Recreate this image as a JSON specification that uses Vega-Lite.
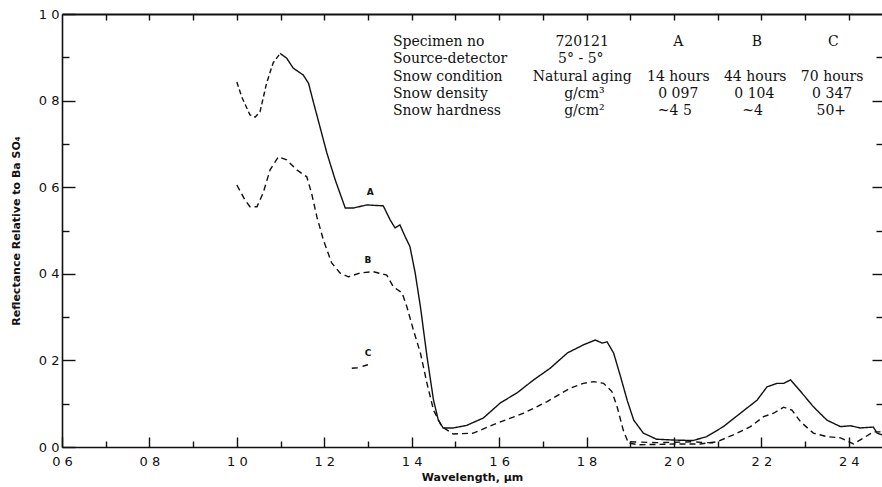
{
  "$schema": "https://vega.github.io/schema/vega-lite/v6.json",
  "width": 820,
  "height": 433,
  "autosize": "none",
  "padding": {"left": 62, "top": 14, "right": 0, "bottom": 40},
  "background": "#ffffff",
  "config": {
    "view": {"stroke": null},
    "axis": {
      "domainColor": "#111111",
      "domainWidth": 1.6,
      "tickColor": "#111111",
      "tickWidth": 1.4,
      "labelFont": "DejaVu Sans",
      "labelColor": "#111111",
      "labelFontSize": 12,
      "titleFont": "DejaVu Sans",
      "titleColor": "#111111",
      "titleFontSize": 11,
      "titleFontWeight": "bold",
      "grid": false
    }
  },
  "datasets": {
    "curves": [
      {"s": "Adash", "p": 1, "x": 1.0, "y": 0.843},
      {"s": "Adash", "p": 1, "x": 1.011, "y": 0.809},
      {"s": "Adash", "p": 1, "x": 1.03, "y": 0.767},
      {"s": "Adash", "p": 1, "x": 1.042, "y": 0.762},
      {"s": "Adash", "p": 1, "x": 1.053, "y": 0.774},
      {"s": "Adash", "p": 1, "x": 1.068, "y": 0.84},
      {"s": "Adash", "p": 1, "x": 1.083, "y": 0.887},
      {"s": "Adash", "p": 1, "x": 1.099, "y": 0.909},
      {"s": "A", "p": 1, "x": 1.099, "y": 0.909},
      {"s": "A", "p": 1, "x": 1.114, "y": 0.898},
      {"s": "A", "p": 1, "x": 1.129, "y": 0.875},
      {"s": "A", "p": 1, "x": 1.152, "y": 0.859},
      {"s": "A", "p": 1, "x": 1.164, "y": 0.84},
      {"s": "A", "p": 1, "x": 1.175, "y": 0.797},
      {"s": "A", "p": 1, "x": 1.19, "y": 0.74},
      {"s": "A", "p": 1, "x": 1.206, "y": 0.679},
      {"s": "A", "p": 1, "x": 1.225, "y": 0.617},
      {"s": "A", "p": 1, "x": 1.248, "y": 0.552},
      {"s": "A", "p": 1, "x": 1.267, "y": 0.552},
      {"s": "A", "p": 1, "x": 1.297, "y": 0.559},
      {"s": "A", "p": 1, "x": 1.335, "y": 0.557},
      {"s": "A", "p": 1, "x": 1.351, "y": 0.524},
      {"s": "A", "p": 1, "x": 1.362, "y": 0.506},
      {"s": "A", "p": 1, "x": 1.373, "y": 0.513},
      {"s": "A", "p": 1, "x": 1.385, "y": 0.486},
      {"s": "A", "p": 1, "x": 1.396, "y": 0.463},
      {"s": "A", "p": 1, "x": 1.408, "y": 0.402},
      {"s": "A", "p": 1, "x": 1.42, "y": 0.324},
      {"s": "A", "p": 1, "x": 1.435, "y": 0.209},
      {"s": "A", "p": 1, "x": 1.45, "y": 0.108},
      {"s": "A", "p": 1, "x": 1.461, "y": 0.062},
      {"s": "A", "p": 1, "x": 1.472, "y": 0.044},
      {"s": "A", "p": 1, "x": 1.495, "y": 0.044},
      {"s": "A", "p": 1, "x": 1.526, "y": 0.05},
      {"s": "A", "p": 1, "x": 1.564, "y": 0.067},
      {"s": "A", "p": 1, "x": 1.603, "y": 0.102},
      {"s": "A", "p": 1, "x": 1.641, "y": 0.125},
      {"s": "A", "p": 1, "x": 1.679, "y": 0.155},
      {"s": "A", "p": 1, "x": 1.717, "y": 0.182},
      {"s": "A", "p": 1, "x": 1.756, "y": 0.217},
      {"s": "A", "p": 1, "x": 1.793, "y": 0.236},
      {"s": "A", "p": 1, "x": 1.82, "y": 0.247},
      {"s": "A", "p": 1, "x": 1.836, "y": 0.24},
      {"s": "A", "p": 1, "x": 1.847, "y": 0.243},
      {"s": "A", "p": 1, "x": 1.862, "y": 0.217},
      {"s": "A", "p": 1, "x": 1.878, "y": 0.162},
      {"s": "A", "p": 1, "x": 1.893, "y": 0.108},
      {"s": "A", "p": 1, "x": 1.908, "y": 0.062},
      {"s": "A", "p": 1, "x": 1.93, "y": 0.032},
      {"s": "A", "p": 1, "x": 1.96, "y": 0.018},
      {"s": "A", "p": 1, "x": 2.0, "y": 0.016},
      {"s": "A", "p": 1, "x": 2.044, "y": 0.015},
      {"s": "A", "p": 1, "x": 2.075, "y": 0.024},
      {"s": "A", "p": 1, "x": 2.113, "y": 0.047},
      {"s": "A", "p": 1, "x": 2.152, "y": 0.078},
      {"s": "A", "p": 1, "x": 2.19, "y": 0.108},
      {"s": "A", "p": 1, "x": 2.213, "y": 0.139},
      {"s": "A", "p": 1, "x": 2.236, "y": 0.147},
      {"s": "A", "p": 1, "x": 2.251, "y": 0.147},
      {"s": "A", "p": 1, "x": 2.267, "y": 0.155},
      {"s": "A", "p": 1, "x": 2.29, "y": 0.128},
      {"s": "A", "p": 1, "x": 2.319, "y": 0.093},
      {"s": "A", "p": 1, "x": 2.35, "y": 0.062},
      {"s": "A", "p": 1, "x": 2.381, "y": 0.047},
      {"s": "A", "p": 1, "x": 2.404, "y": 0.049},
      {"s": "A", "p": 1, "x": 2.426, "y": 0.044},
      {"s": "A", "p": 1, "x": 2.456, "y": 0.046},
      {"s": "A", "p": 1, "x": 2.465, "y": 0.032},
      {"s": "A", "p": 1, "x": 2.476, "y": 0.028},
      {"s": "B", "p": 1, "x": 1.0, "y": 0.605},
      {"s": "B", "p": 1, "x": 1.019, "y": 0.57},
      {"s": "B", "p": 1, "x": 1.03, "y": 0.555},
      {"s": "B", "p": 1, "x": 1.046, "y": 0.555},
      {"s": "B", "p": 1, "x": 1.06, "y": 0.586},
      {"s": "B", "p": 1, "x": 1.076, "y": 0.64},
      {"s": "B", "p": 1, "x": 1.095, "y": 0.67},
      {"s": "B", "p": 1, "x": 1.114, "y": 0.663},
      {"s": "B", "p": 1, "x": 1.137, "y": 0.64},
      {"s": "B", "p": 1, "x": 1.16, "y": 0.624},
      {"s": "B", "p": 1, "x": 1.171, "y": 0.586},
      {"s": "B", "p": 1, "x": 1.183, "y": 0.532},
      {"s": "B", "p": 1, "x": 1.198, "y": 0.478},
      {"s": "B", "p": 1, "x": 1.217, "y": 0.425},
      {"s": "B", "p": 1, "x": 1.236, "y": 0.402},
      {"s": "B", "p": 1, "x": 1.255, "y": 0.393},
      {"s": "B", "p": 1, "x": 1.282, "y": 0.402},
      {"s": "B", "p": 1, "x": 1.312, "y": 0.405},
      {"s": "B", "p": 1, "x": 1.343, "y": 0.397},
      {"s": "B", "p": 1, "x": 1.358, "y": 0.37},
      {"s": "B", "p": 1, "x": 1.378, "y": 0.356},
      {"s": "B", "p": 1, "x": 1.389, "y": 0.324},
      {"s": "B", "p": 1, "x": 1.404, "y": 0.27},
      {"s": "B", "p": 1, "x": 1.42, "y": 0.217},
      {"s": "B", "p": 1, "x": 1.435, "y": 0.147},
      {"s": "B", "p": 1, "x": 1.45, "y": 0.085},
      {"s": "B", "p": 1, "x": 1.469, "y": 0.047},
      {"s": "B", "p": 1, "x": 1.495, "y": 0.03},
      {"s": "B", "p": 1, "x": 1.541, "y": 0.032},
      {"s": "B", "p": 1, "x": 1.595, "y": 0.055},
      {"s": "B", "p": 1, "x": 1.656, "y": 0.078},
      {"s": "B", "p": 1, "x": 1.71, "y": 0.105},
      {"s": "B", "p": 1, "x": 1.763, "y": 0.136},
      {"s": "B", "p": 1, "x": 1.793, "y": 0.147},
      {"s": "B", "p": 1, "x": 1.816, "y": 0.151},
      {"s": "B", "p": 1, "x": 1.839, "y": 0.147},
      {"s": "B", "p": 1, "x": 1.858, "y": 0.128},
      {"s": "B", "p": 1, "x": 1.87, "y": 0.093},
      {"s": "B", "p": 1, "x": 1.884, "y": 0.039},
      {"s": "B", "p": 1, "x": 1.896, "y": 0.009},
      {"s": "B", "p": 1, "x": 1.92, "y": 0.005},
      {"s": "B", "p": 1, "x": 2.0, "y": 0.007},
      {"s": "B", "p": 1, "x": 2.06, "y": 0.007},
      {"s": "B", "p": 1, "x": 2.098, "y": 0.012},
      {"s": "B", "p": 1, "x": 2.136, "y": 0.028},
      {"s": "B", "p": 1, "x": 2.175, "y": 0.047},
      {"s": "B", "p": 1, "x": 2.205, "y": 0.07},
      {"s": "B", "p": 1, "x": 2.228, "y": 0.078},
      {"s": "B", "p": 1, "x": 2.251, "y": 0.092},
      {"s": "B", "p": 1, "x": 2.27, "y": 0.085},
      {"s": "B", "p": 1, "x": 2.29, "y": 0.058},
      {"s": "B", "p": 1, "x": 2.319, "y": 0.032},
      {"s": "B", "p": 1, "x": 2.35, "y": 0.024},
      {"s": "B", "p": 1, "x": 2.381, "y": 0.021},
      {"s": "B", "p": 1, "x": 2.411, "y": 0.007},
      {"s": "B", "p": 1, "x": 2.434, "y": 0.021},
      {"s": "B", "p": 1, "x": 2.456, "y": 0.035},
      {"s": "B", "p": 1, "x": 2.476, "y": 0.035},
      {"s": "C", "p": 1, "x": 1.263, "y": 0.182},
      {"s": "C", "p": 1, "x": 1.276, "y": 0.183},
      {"s": "C", "p": 1, "x": 1.29, "y": 0.187},
      {"s": "C", "p": 1, "x": 1.3, "y": 0.19},
      {"s": "C", "p": 2, "x": 1.9, "y": 0.012},
      {"s": "C", "p": 2, "x": 1.96, "y": 0.01},
      {"s": "C", "p": 2, "x": 2.04, "y": 0.012},
      {"s": "C", "p": 2, "x": 2.1, "y": 0.009}
    ],
    "letters": [
      {"x": 1.305, "y": 0.59, "t": "A"},
      {"x": 1.3, "y": 0.432, "t": "B"},
      {"x": 1.3, "y": 0.217, "t": "C"}
    ],
    "table": [
      {"x": 1.357, "y": 0.935, "t": "Specimen no", "a": "left"},
      {"x": 1.357, "y": 0.895, "t": "Source-detector", "a": "left"},
      {"x": 1.357, "y": 0.855, "t": "Snow condition", "a": "left"},
      {"x": 1.357, "y": 0.815, "t": "Snow density", "a": "left"},
      {"x": 1.357, "y": 0.775, "t": "Snow hardness", "a": "left"},
      {"x": 1.79, "y": 0.935, "t": "720121", "a": "center"},
      {"x": 1.787, "y": 0.895, "t": "5° - 5°", "a": "center"},
      {"x": 1.79, "y": 0.855, "t": "Natural aging", "a": "center"},
      {"x": 1.795, "y": 0.815, "t": "g/cm³", "a": "center"},
      {"x": 1.795, "y": 0.775, "t": "g/cm²", "a": "center"},
      {"x": 2.01, "y": 0.935, "t": "A", "a": "center"},
      {"x": 2.01, "y": 0.855, "t": "14 hours", "a": "center"},
      {"x": 2.01, "y": 0.815, "t": "0 097", "a": "center"},
      {"x": 2.002, "y": 0.775, "t": "~4 5", "a": "center"},
      {"x": 2.19, "y": 0.935, "t": "B", "a": "center"},
      {"x": 2.186, "y": 0.855, "t": "44 hours", "a": "center"},
      {"x": 2.184, "y": 0.815, "t": "0 104", "a": "center"},
      {"x": 2.18, "y": 0.775, "t": "~4", "a": "center"},
      {"x": 2.365, "y": 0.935, "t": "C", "a": "center"},
      {"x": 2.362, "y": 0.855, "t": "70 hours", "a": "center"},
      {"x": 2.362, "y": 0.815, "t": "0 347", "a": "center"},
      {"x": 2.36, "y": 0.775, "t": "50+", "a": "center"}
    ]
  },
  "resolve": {"axis": {"x": "independent", "y": "independent"}},
  "layer": [
    {
      "data": {"name": "curves"},
      "mark": {"type": "line", "color": "#111111", "strokeWidth": 1.4},
      "encoding": {
        "x": {
          "field": "x",
          "type": "quantitative",
          "scale": {"domain": [0.6, 2.476], "nice": false, "zero": false},
          "axis": {
            "title": "Wavelength, μm",
            "titlePadding": 3,
            "labelFontSize": 13,
            "values": [0.6, 0.7, 0.8, 0.9, 1.0, 1.1, 1.2, 1.3, 1.4, 1.5, 1.6, 1.7, 1.8, 1.9, 2.0, 2.1, 2.2, 2.3, 2.4],
            "labelExpr": "round(datum.value * 10) % 2 == 0 ? replace(format(datum.value, '.1f'), '.', ' ') : ''",
            "tickSize": {"condition": {"test": "round(datum.value * 10) % 2 == 0", "value": -10}, "value": -6},
            "labelPadding": 18,
            "labelFlush": false
          }
        },
        "y": {
          "field": "y",
          "type": "quantitative",
          "scale": {"domain": [0, 1], "nice": false},
          "axis": {
            "title": "Reflectance Relative to Ba SO₄",
            "titlePadding": 17,
            "labelFontSize": 13,
            "values": [0, 0.1, 0.2, 0.3, 0.4, 0.5, 0.6, 0.7, 0.8, 0.9, 1.0],
            "labelExpr": "round(datum.value * 10) % 2 == 0 ? replace(format(datum.value, '.1f'), '.', ' ') : ''",
            "tickSize": {"condition": {"test": "round(datum.value * 10) % 2 == 0", "value": -13}, "value": -7},
            "labelPadding": 16
          }
        },
        "strokeDash": {
          "field": "s",
          "type": "nominal",
          "scale": {"domain": ["Adash", "A", "B", "C"], "range": [[5, 3], [1, 0], [6, 4], [6, 5]]},
          "legend": null
        },
        "detail": {"field": "p", "type": "nominal"}
      }
    },
    {
      "data": {"name": "letters"},
      "mark": {"type": "text", "font": "DejaVu Sans", "fontSize": 9, "fontWeight": "bold", "color": "#111111"},
      "encoding": {
        "x": {"field": "x", "type": "quantitative", "axis": null},
        "y": {
          "field": "y",
          "type": "quantitative",
          "axis": {
            "orient": "right",
            "title": null,
            "labels": false,
            "domain": false,
            "values": [0.1, 0.2, 0.3, 0.4, 0.5, 0.6, 0.7, 0.8, 0.9],
            "tickSize": {"condition": {"test": "round(datum.value * 10) % 2 == 0", "value": -10}, "value": -6}
          }
        },
        "text": {"field": "t"}
      }
    },
    {
      "data": {"name": "table"},
      "transform": [{"filter": "datum.a == 'left'"}],
      "mark": {"type": "text", "font": "DejaVu Serif", "fontSize": 14, "color": "#111111", "baseline": "middle", "align": "left"},
      "encoding": {
        "x": {
          "field": "x",
          "type": "quantitative",
          "axis": {
            "orient": "top",
            "title": null,
            "labels": false,
            "domainWidth": 2,
            "values": [0.7, 0.8, 0.9, 1.0, 1.1, 1.2, 1.3, 1.4, 1.5, 1.6, 1.7, 1.8, 1.9, 2.0, 2.1, 2.2, 2.3, 2.4],
            "tickSize": -6
          }
        },
        "y": {"field": "y", "type": "quantitative", "axis": null},
        "text": {"field": "t"}
      }
    },
    {
      "data": {"name": "table"},
      "transform": [{"filter": "datum.a == 'center'"}],
      "mark": {"type": "text", "font": "DejaVu Serif", "fontSize": 14, "color": "#111111", "baseline": "middle", "align": "center"},
      "encoding": {
        "x": {"field": "x", "type": "quantitative", "axis": null},
        "y": {"field": "y", "type": "quantitative", "axis": null},
        "text": {"field": "t"}
      }
    }
  ]
}
